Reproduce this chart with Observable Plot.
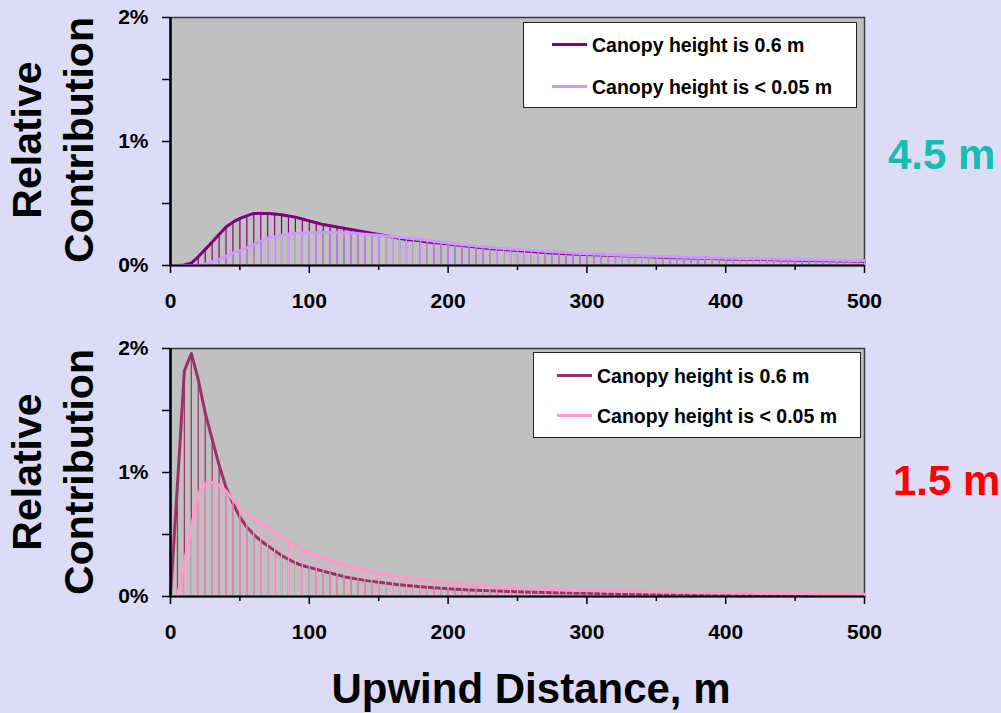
<!DOCTYPE html>
<html>
<head>
<meta charset="utf-8">
<script src="https://cdn.jsdelivr.net/npm/d3@7"></script>
<script src="https://cdn.jsdelivr.net/npm/@observablehq/plot@0.6"></script>
<style>
  html, body { margin: 0; padding: 0; background: #dcdcf6; }
  #wrap { position: relative; width: 1001px; height: 713px; overflow: hidden; background: #dcdcf6;
          font-family: "Liberation Sans", Arial, sans-serif; font-weight: bold; color: #000; }
  .abs { position: absolute; }
  .ylab { position: absolute; width: 300px; text-align: center; font-size: 41px; line-height: 52px;
          transform: rotate(-90deg); transform-origin: center center; }
  .legend { position: absolute; background: #fff; border: 1.5px solid #222; box-sizing: border-box; }
  .entry { position: absolute; font-size: 19.5px; white-space: nowrap; line-height: 20px; }
  .swatch { display: inline-block; width: 35px; height: 3px; vertical-align: middle; margin-right: 5px; position: relative; top: -2px; }
  svg { overflow: visible; }
</style>
</head>
<body>
<div id="wrap"></div>
<script>
// ---- data (relative contribution, %) at upwind distances 0..500 m, step 5 m ----
const distances = d3.range(0, 501, 5);
const xTickLabels = [0, 100, 200, 300, 400, 500];
const xMinorTicks = [50, 150, 250, 350, 450];
const yTickLabels = [0, 1, 2];
const yMinorTicks = [0.5, 1.5];
const seriesNames = ["Canopy height is 0.6 m", "Canopy height is < 0.05 m"];
const panelNames = ["4.5 m", "1.5 m"];

// 4.5 m, canopy 0.6 m
const top06 = [0,0,0.005,0.02,0.07,0.13,0.19,0.25,0.31,0.35,0.38,0.40,0.42,0.42,0.42,0.415,0.41,0.40,0.39,0.375,
0.36,0.345,0.33,0.32,0.31,0.30,0.29,0.28,0.27,0.26,0.25,0.24,0.23,0.22,0.21,0.205,0.20,0.19,0.185,0.18,
0.175,0.168,0.161,0.155,0.149,0.143,0.138,0.133,0.129,0.125,0.121,0.117,0.113,0.109,0.105,0.101,0.098,0.095,0.092,0.09,
0.088,0.086,0.084,0.082,0.08,0.078,0.076,0.074,0.072,0.07,0.068,0.066,0.065,0.063,0.062,0.061,0.06,0.058,0.057,0.055,
0.053,0.052,0.051,0.05,0.049,0.048,0.047,0.046,0.045,0.044,0.043,0.042,0.041,0.04,0.039,0.038,0.037,0.037,0.036,0.035,0.035];
// 4.5 m, canopy < 0.05 m
const top005 = [0,0,0,0,0,0.01,0.03,0.05,0.075,0.1,0.12,0.145,0.17,0.195,0.22,0.235,0.245,0.255,0.26,0.263,
0.265,0.267,0.267,0.267,0.266,0.265,0.262,0.258,0.253,0.248,0.243,0.238,0.234,0.228,0.222,0.216,0.21,0.203,0.196,0.188,
0.182,0.176,0.17,0.164,0.158,0.152,0.147,0.142,0.137,0.133,0.13,0.126,0.122,0.118,0.114,0.11,0.107,0.104,0.1,0.097,
0.095,0.093,0.09,0.088,0.085,0.083,0.081,0.079,0.077,0.075,0.074,0.072,0.07,0.069,0.067,0.066,0.064,0.063,0.061,0.06,
0.059,0.058,0.057,0.056,0.055,0.054,0.053,0.052,0.051,0.05,0.049,0.048,0.047,0.046,0.045,0.044,0.043,0.042,0.041,0.041,0.04];
// 1.5 m, canopy 0.6 m
const bot06 = [0,0.9,1.82,1.96,1.75,1.48,1.27,1.06,0.88,0.75,0.64,0.56,0.5,0.45,0.41,0.37,0.33,0.3,0.27,0.25,
0.235,0.22,0.205,0.19,0.175,0.16,0.15,0.14,0.13,0.122,0.115,0.108,0.101,0.095,0.089,0.084,0.079,0.074,0.07,0.066,
0.062,0.059,0.056,0.053,0.05,0.048,0.046,0.044,0.042,0.04,0.038,0.037,0.035,0.034,0.033,0.031,0.03,0.029,0.028,0.027,
0.026,0.025,0.025,0.024,0.023,0.022,0.022,0.021,0.02,0.02,0.019,0.019,0.018,0.018,0.017,0.017,0.016,0.016,0.016,0.015,
0.015,0.015,0.014,0.014,0.014,0.013,0.013,0.013,0.012,0.012,0.012,0.012,0.011,0.011,0.011,0.011,0.01,0.01,0.01,0.01,0.01];
// 1.5 m, canopy < 0.05 m
const bot005 = [0,0,0.28,0.56,0.83,0.91,0.92,0.9,0.85,0.78,0.72,0.67,0.63,0.6,0.56,0.52,0.48,0.44,0.41,0.38,
0.355,0.335,0.315,0.295,0.275,0.255,0.24,0.225,0.212,0.2,0.19,0.18,0.17,0.16,0.152,0.144,0.136,0.129,0.122,0.116,
0.11,0.105,0.1,0.095,0.09,0.086,0.082,0.078,0.075,0.072,0.069,0.066,0.063,0.061,0.059,0.057,0.055,0.053,0.051,0.049,
0.048,0.046,0.045,0.043,0.042,0.041,0.04,0.039,0.038,0.037,0.036,0.035,0.034,0.033,0.032,0.031,0.031,0.03,0.029,0.029,
0.028,0.027,0.027,0.026,0.026,0.025,0.025,0.024,0.024,0.023,0.023,0.022,0.022,0.021,0.021,0.021,0.02,0.02,0.02,0.019,0.019];

const topColors = ["#800080", "#cc99ff"];
const botColors = ["#993366", "#ff99cc"];

const toRows = (vals) => distances.map((d, i) => ({d, v: vals[i]}));

function panel(a, b, colors) {
  const A = toRows(a), B = toRows(b);
  return Plot.plot({
    width: 1001, height: 330,
    marginLeft: 170, marginRight: 137, marginTop: 17, marginBottom: 65,
    style: {background: "transparent", fontFamily: "'Liberation Sans', Arial, sans-serif", color: "#000", overflow: "visible"},
    x: {domain: [0, 500], label: null},
    y: {domain: [0, 2], label: null},
    marks: [
      Plot.frame({fill: "#c0c0c0", stroke: "#3a3a3a", strokeWidth: 1.5}),
      Plot.ruleX(A, {x: "d", y1: 0, y2: "v", stroke: colors[0], strokeWidth: 1.2}),
      Plot.line(A, {x: "d", y: "v", stroke: colors[0], strokeWidth: 3}),
      Plot.ruleX(B, {x: "d", y1: 0, y2: "v", stroke: colors[1], strokeWidth: 1.2}),
      Plot.line(B, {x: "d", y: "v", stroke: colors[1], strokeWidth: 3}),
      Plot.ruleY([0], {stroke: "#000", strokeWidth: 2}),
      Plot.ruleX([0], {stroke: "#000", strokeWidth: 2.5}),
      Plot.axisX({ticks: xTickLabels, tickSize: 8, tickFormat: () => "", label: null, strokeWidth: 1.5}),
      Plot.axisX({ticks: xMinorTicks, tickSize: 5, tickFormat: () => "", label: null, strokeWidth: 1.5}),
      Plot.axisY({ticks: yTickLabels.concat(yMinorTicks), tickSize: 8, tickFormat: () => "", label: null, strokeWidth: 1.5}),
      Plot.text(xTickLabels, {x: d => d, y: 0, text: d => String(d), lineAnchor: "top", dy: 28, fontSize: 21, fontWeight: "bold", fill: "#000"}),
      Plot.text(yTickLabels, {x: 0, y: d => d, text: d => d + "%", textAnchor: "end", dx: -22, fontSize: 21, fontWeight: "bold", fill: "#000"})
    ]
  });
}

const wrap = document.getElementById("wrap");

function place(el, left, top) {
  el.style.position = "absolute";
  el.style.left = left + "px";
  el.style.top = top + "px";
  wrap.appendChild(el);
  return el;
}

place(panel(top06, top005, topColors), 0, 0);
place(panel(bot06, bot005, botColors), 0, 331);

// y-axis labels (two lines, rotated)
function ylabel(cy) {
  const d = document.createElement("div");
  d.className = "ylab";
  d.innerHTML = "Relative<br>Contribution";
  d.style.height = "104px";
  d.style.left = (53 - 150) + "px";
  d.style.top = (cy - 52) + "px";
  wrap.appendChild(d);
}
ylabel(140);
ylabel(472);

// panel labels
function plabel(text, color, left, baseline) {
  const d = document.createElement("div");
  d.className = "abs";
  d.textContent = text;
  d.style.left = left + "px";
  d.style.top = (baseline - 38) + "px";
  d.style.fontSize = "42px";
  d.style.lineHeight = "42px";
  d.style.color = color;
  wrap.appendChild(d);
}
plabel(panelNames[0], "#17bdb3", 888, 172);
plabel(panelNames[1], "#ff0000", 893, 498);

// x title
const xt = document.createElement("div");
xt.className = "abs";
xt.textContent = "Upwind Distance, m";
xt.style.left = "0px"; xt.style.width = "1062px"; xt.style.textAlign = "center";
xt.style.top = "666px"; xt.style.fontSize = "42px"; xt.style.lineHeight = "46px";
wrap.appendChild(xt);

// legends
function legend(left, top, width, height, colors, rowYs, swLeft) {
  const box = document.createElement("div");
  box.className = "legend";
  box.style.left = left + "px"; box.style.top = top + "px";
  box.style.width = width + "px"; box.style.height = height + "px";
  wrap.appendChild(box);
  seriesNames.forEach((name, i) => {
    const e = document.createElement("div");
    e.className = "entry";
    e.style.left = swLeft + "px";
    e.style.top = (rowYs[i] - 10) + "px";
    e.innerHTML = `<span class="swatch" style="background:${colors[i]}"></span>${name}`;
    wrap.appendChild(e);
  });
}
legend(523, 22, 334, 86, topColors, [45, 87], 552);
legend(533, 352, 328, 86, botColors, [376, 416], 557);
</script>
</body>
</html>
